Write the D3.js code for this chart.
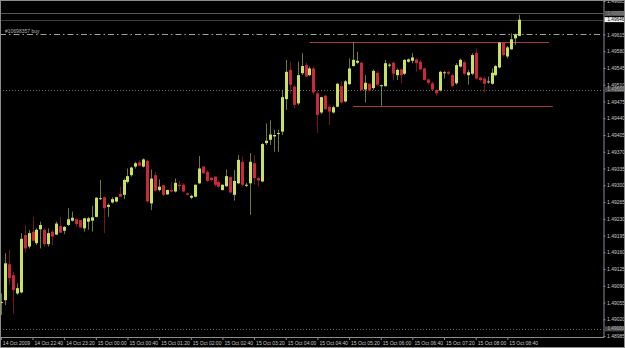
<!DOCTYPE html>
<html>
<head>
<meta charset="utf-8">
<script src="https://cdn.jsdelivr.net/npm/d3@7"></script>
<style>
  html, body { margin: 0; padding: 0; background: #000; overflow: hidden; }
  svg { display: block; font-family: 'Liberation Sans', Arial, sans-serif; }
</style>
</head>
<body>
<script>
// M5 bars from 14 Oct 2009 22:00
const opens = [
  1.49054, 1.49060, 1.49135, 1.49112, 1.49074, 1.49076, 1.49196, 1.49172, 1.49203, 1.49179, 1.49208, 1.49207,
  1.49177, 1.49203, 1.49197, 1.49215, 1.49205, 1.49217, 1.49226, 1.49229, 1.49227, 1.49210, 1.49224, 1.49226,
  1.49234, 1.49272, 1.49275, 1.49255, 1.49264, 1.49266, 1.49282, 1.49280, 1.49307, 1.49321, 1.49339, 1.49348,
  1.49339, 1.49351, 1.49262, 1.49321, 1.49290, 1.49300, 1.49281, 1.49290, 1.49287, 1.49301, 1.49301, 1.49283,
  1.49274, 1.49276, 1.49304, 1.49339, 1.49328, 1.49316, 1.49318, 1.49307, 1.49290, 1.49298, 1.49317, 1.49280,
  1.49304, 1.49349, 1.49300, 1.49304, 1.49346, 1.49315, 1.49308, 1.49388, 1.49395, 1.49402, 1.49408, 1.49412,
  1.49480, 1.49541, 1.49506, 1.49471, 1.49534, 1.49551, 1.49530, 1.49544, 1.49492, 1.49452, 1.49487, 1.49464,
  1.49452, 1.49464, 1.49507, 1.49475, 1.49511, 1.49549, 1.49556, 1.49556, 1.49500, 1.49512, 1.49503, 1.49535,
  1.49508, 1.49507, 1.49551, 1.49556, 1.49530, 1.49542, 1.49533, 1.49558, 1.49560, 1.49563, 1.49558, 1.49544,
  1.49521, 1.49513, 1.49499, 1.49498, 1.49535, 1.49537, 1.49530, 1.49513, 1.49548, 1.49557, 1.49530, 1.49533,
  1.49576, 1.49525, 1.49523, 1.49517, 1.49512, 1.49530, 1.49546, 1.49598, 1.49569, 1.49584, 1.49607, 1.49612
];
const highs = [
  1.49074, 1.49158, 1.49165, 1.49119, 1.49095, 1.49200, 1.49217, 1.49207, 1.49234, 1.49210, 1.49224, 1.49210,
  1.49210, 1.49207, 1.49224, 1.49234, 1.49215, 1.49252, 1.49245, 1.49231, 1.49228, 1.49232, 1.49234, 1.49257,
  1.49275, 1.49311, 1.49276, 1.49262, 1.49275, 1.49276, 1.49297, 1.49314, 1.49335, 1.49339, 1.49349, 1.49353,
  1.49356, 1.49353, 1.49333, 1.49328, 1.49312, 1.49301, 1.49291, 1.49307, 1.49314, 1.49309, 1.49304, 1.49285,
  1.49280, 1.49302, 1.49361, 1.49340, 1.49332, 1.49317, 1.49319, 1.49311, 1.49302, 1.49333, 1.49318, 1.49332,
  1.49363, 1.49360, 1.49305, 1.49367, 1.49363, 1.49318, 1.49388, 1.49429, 1.49436, 1.49416, 1.49416, 1.49499,
  1.49562, 1.49558, 1.49510, 1.49558, 1.49576, 1.49556, 1.49548, 1.49548, 1.49496, 1.49485, 1.49489, 1.49468,
  1.49466, 1.49514, 1.49517, 1.49520, 1.49565, 1.49598, 1.49579, 1.49558, 1.49530, 1.49513, 1.49542, 1.49539,
  1.49510, 1.49562, 1.49555, 1.49558, 1.49544, 1.49544, 1.49563, 1.49565, 1.49576, 1.49565, 1.49562, 1.49546,
  1.49523, 1.49517, 1.49500, 1.49539, 1.49539, 1.49539, 1.49533, 1.49555, 1.49565, 1.49560, 1.49541, 1.49576,
  1.49586, 1.49527, 1.49527, 1.49527, 1.49544, 1.49551, 1.49599, 1.49599, 1.49591, 1.49617, 1.49617, 1.49656
];
const lows = [
  1.49029, 1.49050, 1.49092, 1.49032, 1.49071, 1.49074, 1.49159, 1.49168, 1.49182, 1.49175, 1.49168, 1.49172,
  1.49172, 1.49175, 1.49196, 1.49200, 1.49198, 1.49215, 1.49224, 1.49213, 1.49210, 1.49203, 1.49207, 1.49203,
  1.49233, 1.49269, 1.49200, 1.49234, 1.49262, 1.49264, 1.49275, 1.49271, 1.49304, 1.49318, 1.49335, 1.49339,
  1.49337, 1.49264, 1.49248, 1.49287, 1.49287, 1.49278, 1.49280, 1.49285, 1.49285, 1.49290, 1.49285, 1.49278,
  1.49271, 1.49275, 1.49303, 1.49324, 1.49307, 1.49307, 1.49297, 1.49294, 1.49289, 1.49297, 1.49283, 1.49268,
  1.49302, 1.49297, 1.49296, 1.49238, 1.49301, 1.49297, 1.49306, 1.49384, 1.49384, 1.49370, 1.49370, 1.49405,
  1.49457, 1.49492, 1.49461, 1.49468, 1.49530, 1.49526, 1.49528, 1.49489, 1.49409, 1.49449, 1.49457, 1.49426,
  1.49450, 1.49463, 1.49471, 1.49473, 1.49510, 1.49548, 1.49553, 1.49498, 1.49473, 1.49496, 1.49499, 1.49507,
  1.49466, 1.49506, 1.49546, 1.49519, 1.49520, 1.49513, 1.49530, 1.49556, 1.49555, 1.49537, 1.49541, 1.49519,
  1.49510, 1.49499, 1.49487, 1.49496, 1.49523, 1.49530, 1.49506, 1.49510, 1.49546, 1.49530, 1.49510, 1.49530,
  1.49520, 1.49517, 1.49494, 1.49512, 1.49510, 1.49528, 1.49544, 1.49569, 1.49565, 1.49583, 1.49593, 1.49611
];
const closes = [
  1.49056, 1.49137, 1.49106, 1.49081, 1.49085, 1.49188, 1.49168, 1.49200, 1.49184, 1.49207, 1.49217, 1.49177,
  1.49200, 1.49193, 1.49220, 1.49201, 1.49213, 1.49229, 1.49232, 1.49219, 1.49212, 1.49231, 1.49231, 1.49233,
  1.49274, 1.49273, 1.49252, 1.49259, 1.49271, 1.49275, 1.49276, 1.49311, 1.49319, 1.49337, 1.49346, 1.49341,
  1.49354, 1.49266, 1.49314, 1.49289, 1.49297, 1.49280, 1.49290, 1.49287, 1.49305, 1.49298, 1.49287, 1.49280,
  1.49278, 1.49301, 1.49335, 1.49325, 1.49309, 1.49311, 1.49301, 1.49297, 1.49301, 1.49319, 1.49285, 1.49309,
  1.49353, 1.49301, 1.49301, 1.49349, 1.49315, 1.49310, 1.49386, 1.49393, 1.49406, 1.49405, 1.49409, 1.49484,
  1.49537, 1.49510, 1.49468, 1.49530, 1.49549, 1.49527, 1.49544, 1.49494, 1.49447, 1.49484, 1.49459, 1.49454,
  1.49463, 1.49512, 1.49473, 1.49517, 1.49544, 1.49562, 1.49560, 1.49499, 1.49514, 1.49498, 1.49539, 1.49510,
  1.49509, 1.49555, 1.49552, 1.49533, 1.49541, 1.49530, 1.49562, 1.49563, 1.49567, 1.49555, 1.49542, 1.49520,
  1.49514, 1.49500, 1.49492, 1.49537, 1.49536, 1.49533, 1.49507, 1.49551, 1.49562, 1.49533, 1.49536, 1.49572,
  1.49523, 1.49520, 1.49512, 1.49517, 1.49535, 1.49549, 1.49598, 1.49572, 1.49588, 1.49605, 1.49614, 1.49646
];

// Time axis: a label every 8 bars
const timeTickBars = [0, 8, 16, 24, 32, 40, 48, 56, 64, 72, 80, 88, 96, 104, 112, 120, 128];
const timeLabels = [
  '14 Oct 2009', '14 Oct 22:40', '14 Oct 23:20', '15 Oct 00:00', '15 Oct 00:40', '15 Oct 01:20',
  '15 Oct 02:00', '15 Oct 02:40', '15 Oct 03:20', '15 Oct 04:00', '15 Oct 04:40', '15 Oct 05:20',
  '15 Oct 06:00', '15 Oct 06:40', '15 Oct 07:20', '15 Oct 08:00', '15 Oct 08:40'
];

// Price axis (1.49650 sits under the bid box, so it is left out)
const priceTicks = [
  1.48985, 1.49020, 1.49055, 1.49090, 1.49125, 1.49160, 1.49195, 1.49230, 1.49265, 1.49300, 1.49335,
  1.49370, 1.49405, 1.49440, 1.49475, 1.49510, 1.49545, 1.49580, 1.49615, 1.49685
];

const bid = 1.49646;
const ask = 1.49659;
const roundLevels = [1.49000, 1.49500];
const orderLevel = 1.49616;
const orderLabel = '#10698357 buy';

// Support / resistance lines drawn by hand
const srPrices = [1.49599, 1.49465];
const srFromBar = [78, 89];
const srToBar = [138.5, 139.5];

// SVG dimensions
const fullWidth = 625;
const fullHeight = 348;
const plotRight = 603.5;
const plotBottom = 337;

const upColor = '#c8e25c';
const downColor = '#cc283c';
const axisColor = '#8c8c8c';
const textColor = '#c8c8c8';

const svg = d3.select('body')
  .append('svg')
  .attr('width', fullWidth)
  .attr('height', fullHeight);

svg.append('rect')
  .attr('width', fullWidth)
  .attr('height', fullHeight)
  .attr('fill', '#000');

const x = d3.scaleLinear()
  .domain([-0.215, 152.3])
  .range([0, plotRight]);

const y = d3.scaleLinear()
  .domain([1.48983, 1.49687])
  .range([plotBottom, 0]);

const bars = opens.map((o, i) => ({ i, o, h: highs[i], l: lows[i], c: closes[i] }));

// Round number levels (dotted)
svg.selectAll('.round-line')
  .data(roundLevels)
  .enter()
  .append('line')
  .attr('x1', 0)
  .attr('x2', plotRight)
  .attr('y1', d => Math.round(y(d)) + 0.5)
  .attr('y2', d => Math.round(y(d)) + 0.5)
  .attr('stroke', '#6a6a6a')
  .attr('stroke-dasharray', '1,2');

// Ask / bid lines
svg.selectAll('.quote-line')
  .data([ask, bid])
  .enter()
  .append('line')
  .attr('x1', 0)
  .attr('x2', plotRight)
  .attr('y1', d => Math.round(y(d)) + 0.5)
  .attr('y2', d => Math.round(y(d)) + 0.5)
  .attr('stroke', (d, i) => (i === 0 ? '#555' : '#3c3c3c'));

// Order line
svg.append('line')
  .attr('x1', 0)
  .attr('x2', plotRight)
  .attr('y1', Math.round(y(orderLevel)) + 0.5)
  .attr('y2', Math.round(y(orderLevel)) + 0.5)
  .attr('stroke', '#9ea690')
  .attr('stroke-dasharray', '6,3,1.5,3');

svg.append('text')
  .attr('x', 5)
  .attr('y', Math.round(y(orderLevel)) - 1.5)
  .style('font-size', '5px')
  .attr('fill', '#b4b4b4')
  .text(orderLabel);

// S/R lines
svg.selectAll('.sr-line')
  .data(srPrices)
  .enter()
  .append('line')
  .attr('x1', (d, i) => x(srFromBar[i]))
  .attr('x2', (d, i) => x(srToBar[i]))
  .attr('y1', d => Math.round(y(d)) + 0.5)
  .attr('y2', d => Math.round(y(d)) + 0.5)
  .attr('stroke', '#a23c4a');

// Candles
const candle = svg.append('g')
  .selectAll('g')
  .data(bars)
  .enter()
  .append('g');

candle.append('line')
  .attr('x1', d => Math.round(x(d.i)) + 0.5)
  .attr('x2', d => Math.round(x(d.i)) + 0.5)
  .attr('y1', d => y(d.h))
  .attr('y2', d => y(d.l))
  .attr('stroke', d => (d.c >= d.o ? upColor : downColor))
  .attr('stroke-opacity', 0.55);

candle.append('rect')
  .attr('x', d => Math.round(x(d.i)) - 1)
  .attr('width', 3)
  .attr('y', d => y(Math.max(d.o, d.c)))
  .attr('height', d => Math.max(1, Math.abs(y(d.o) - y(d.c))))
  .attr('fill', d => (d.c >= d.o ? upColor : downColor));

// Right price axis
const yAxis = svg.append('g')
  .attr('transform', `translate(${plotRight}, 0)`)
  .call(d3.axisRight(y)
    .tickValues(priceTicks)
    .tickSize(2)
    .tickSizeOuter(0)
    .tickPadding(1.5)
    .tickFormat(d3.format('.5f')));

// Bottom time axis
const xAxis = svg.append('g')
  .attr('transform', `translate(0, ${plotBottom})`)
  .call(d3.axisBottom(x)
    .tickValues(timeTickBars)
    .tickSize(3)
    .tickSizeOuter(0)
    .tickFormat((d, i) => timeLabels[i]));

[yAxis, xAxis].forEach(ax => {
  ax.select('.domain').attr('stroke', axisColor);
  ax.selectAll('.tick line').attr('stroke', axisColor);
  ax.selectAll('.tick text')
    .attr('fill', textColor)
    .style('font-size', '5px')
    .style('font-family', "'Liberation Sans', Arial, sans-serif");
});

xAxis.selectAll('.tick text')
  .attr('text-anchor', 'start')
  .attr('x', 1.5)
  .attr('y', 4);

// Price boxes on the axis
const boxes = [
  { price: roundLevels[1], fill: '#474747', color: '#b0b0b0' },
  { price: roundLevels[0], fill: '#474747', color: '#b0b0b0' },
  { price: ask, fill: '#5a5a5a', color: '#8a8a8a' },
  { price: bid, fill: '#f2f2f2', color: '#000' }
];

const box = svg.selectAll('.price-box')
  .data(boxes)
  .enter()
  .append('g')
  .attr('transform', d => `translate(${plotRight + 1}, ${y(d.price)})`);

box.append('rect')
  .attr('x', 0)
  .attr('y', -2.5)
  .attr('width', fullWidth - plotRight - 2)
  .attr('height', 5)
  .attr('fill', d => d.fill);

box.append('text')
  .attr('x', 3)
  .attr('dy', '0.34em')
  .style('font-size', '4.6px')
  .attr('fill', d => d.color)
  .text(d => d3.format('.5f')(d.price));

// Window frame
svg.append('rect')
  .attr('x', 0.5)
  .attr('y', 0.5)
  .attr('width', fullWidth - 1)
  .attr('height', fullHeight - 1)
  .attr('fill', 'none')
  .attr('stroke', '#8c8c8c');
</script>
</body>
</html>
